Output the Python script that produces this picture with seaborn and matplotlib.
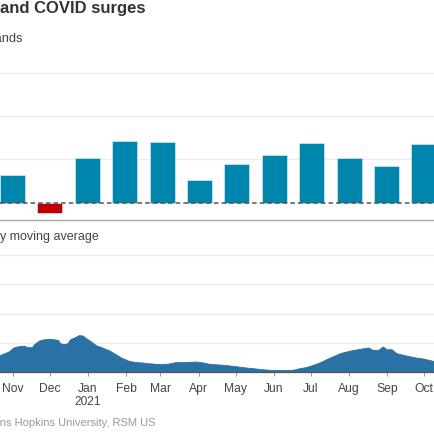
import numpy as np
import pandas as pd
import matplotlib
matplotlib.use('Agg')
import matplotlib.pyplot as plt
import matplotlib.transforms as mtransforms
import seaborn as sns

# monthly payroll change, thousands
months = ['Nov', 'Dec', 'Jan', 'Feb', 'Mar', 'Apr', 'May', 'Jun', 'Jul', 'Aug', 'Sep', 'Oct']
job_gains = [326, -115, 520, 710, 704, 263, 447, 557, 689, 517, 424, 677]

# new COVID cases, 7-day moving average, thousands
case_dates = ['2020-10-28', '2020-11-04', '2020-11-12', '2020-11-16', '2020-11-21', '2020-11-25',
              '2020-11-27', '2020-12-01', '2020-12-03', '2020-12-07', '2020-12-11', '2020-12-16',
              '2020-12-22', '2020-12-24', '2020-12-27', '2020-12-30', '2021-01-01', '2021-01-05',
              '2021-01-08', '2021-01-11', '2021-01-14', '2021-01-18', '2021-01-22', '2021-01-27',
              '2021-02-02', '2021-02-07', '2021-02-12', '2021-02-18', '2021-02-23', '2021-03-01',
              '2021-03-06', '2021-03-14', '2021-03-22', '2021-03-27', '2021-04-04', '2021-04-13',
              '2021-04-18', '2021-04-23', '2021-05-01', '2021-05-05', '2021-05-14', '2021-05-22',
              '2021-05-30', '2021-06-07', '2021-06-15', '2021-06-23', '2021-07-01', '2021-07-06',
              '2021-07-12', '2021-07-17', '2021-07-23', '2021-07-28', '2021-08-03', '2021-08-08',
              '2021-08-14', '2021-08-19', '2021-08-24', '2021-08-31', '2021-09-04', '2021-09-08',
              '2021-09-12', '2021-09-15', '2021-09-19', '2021-09-23', '2021-10-01', '2021-10-09',
              '2021-10-15', '2021-10-23', '2021-10-30']
cases_k = [90, 111, 138, 166, 177, 178,
           168, 168, 190, 214, 222, 225,
           218, 195, 188, 195, 222, 236,
           250, 248, 229, 207, 181, 166,
           145, 120, 95, 74, 67, 63,
           58, 53, 56, 65, 67, 70,
           65, 56, 50, 48, 40, 31,
           24, 17, 12, 12, 14, 24,
           33, 47, 65, 86, 108, 127,
           140, 149, 156, 166, 149, 149,
           173, 154, 154, 127, 111, 97,
           90, 74, 68]

tick_dates = ['2020-11-15', '2020-12-15', '2021-01-15', '2021-02-15', '2021-03-15', '2021-04-15',
              '2021-05-15', '2021-06-15', '2021-07-15', '2021-08-15', '2021-09-15', '2021-10-15']

sns.set_theme(style='white')
plt.rcParams['font.family'] = ['Liberation Sans', 'DejaVu Sans']

fig = plt.figure(figsize=(4.35, 4.35), dpi=100)
W = H = 435.0


def px(x, y):
    return x / W, 1 - y / H


# ---- top panel: job gains ----
ax1 = fig.add_axes([0, 1 - 221 / H, 1, (221 - 74) / H])
jobs = pd.DataFrame({'month': months, 'jobs': job_gains})
jobs['sign'] = np.where(jobs['jobs'] < 0, 'neg', 'pos')
sns.barplot(data=jobs, x='month', y='jobs', hue='sign', order=months,
            palette={'pos': '#0086ad', 'neg': '#c00000'}, saturation=1, dodge=False, width=0.67,
            edgecolor='#d6eaf1', linewidth=0.5, legend=False, ax=ax1, zorder=2)
ax1.set_xlim(-0.334, 11.297)
ax1.set_ylim(-200, 1500)
ax1.set_yticks([500, 1000, 1500])
ax1.yaxis.grid(True, color='#ebebeb', linewidth=1)
ax1.set_axisbelow(True)
ax1.axhline(0, color='#555555', linestyle=(0, (3, 2)), linewidth=1.1, zorder=3)
ax1.set_xticks([])
ax1.set_yticklabels([])
ax1.tick_params(left=False)
ax1.set_xlabel('')
ax1.set_ylabel('')
for side in ['top', 'left', 'right']:
    ax1.spines[side].set_visible(False)
ax1.spines['bottom'].set_color('#a8a8a8')
ax1.spines['bottom'].set_linewidth(1)
for line in ax1.get_ygridlines():
    line.set_clip_on(False)

# ---- bottom panel: COVID cases ----
ax2 = fig.add_axes([0, 1 - 373.3 / H, 1, (373.3 - 256) / H])
cases = pd.DataFrame({'date': pd.to_datetime(case_dates), 'cases': cases_k})
sns.lineplot(data=cases, x='date', y='cases', color='#2a72a5', linewidth=0.6, ax=ax2, zorder=2)
ax2.fill_between(cases['date'], 0, cases['cases'], color='#2a72a5', linewidth=0, zorder=2)
ax2.set_xlim(pd.Timestamp('2020-11-04 16:30'), pd.Timestamp('2021-10-23 22:00'))
ax2.set_ylim(0, 800)
ax2.set_yticks([200, 400, 600, 800])
ax2.yaxis.grid(True, color='#ebebeb', linewidth=1)
ax2.set_axisbelow(True)
ax2.set_yticklabels([])
ax2.tick_params(left=False)
ax2.set_xticks(pd.to_datetime(tick_dates))
ax2.set_xticklabels(months)
ax2.tick_params(axis='x', bottom=True, direction='out', length=3, width=0.8,
                color='#999999', labelcolor='#444444', labelsize=8.7, pad=4)
ax2.set_xlabel('')
ax2.set_ylabel('')
for side in ['top', 'left', 'right']:
    ax2.spines[side].set_visible(False)
ax2.spines['bottom'].set_color('#555555')
ax2.spines['bottom'].set_linewidth(0.9)
for line in ax2.get_ygridlines():
    line.set_clip_on(False)

trans = mtransforms.blended_transform_factory(ax2.transData, fig.transFigure)
ax2.text(pd.Timestamp('2021-01-15'), 1 - 402 / H, '2021', transform=trans,
         ha='center', va='center', fontsize=8.6, color='#444444')

# ---- titles and source (cropped at the left edge) ----
fig.text(*px(146, 9), 'and COVID surges', ha='right', va='center',
         fontsize=12.0, fontweight='bold', color='#333333')
fig.text(*px(23, 39), 'thousands', ha='right', va='center', fontsize=9.3, color='#444444')
fig.text(*px(99, 237), '7-day moving average', ha='right', va='center', fontsize=9.0, color='#444444')
fig.text(*px(156, 423), 'Source: Johns Hopkins University, RSM US', ha='right', va='center',
         fontsize=8.0, color='#999999')

fig.savefig('out.png', dpi=100)
